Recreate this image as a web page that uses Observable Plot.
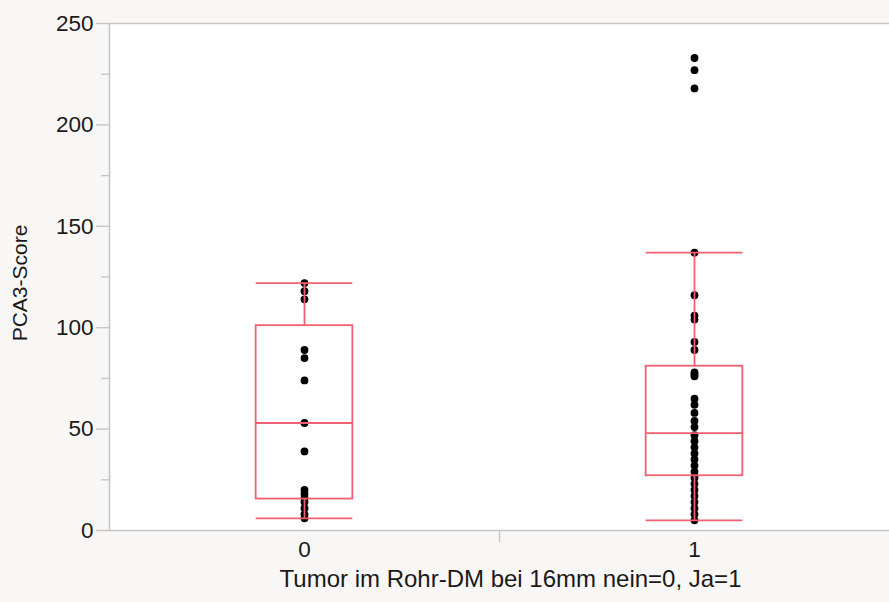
<!DOCTYPE html>
<html>
<head>
<meta charset="utf-8">
<script src="https://cdn.jsdelivr.net/npm/d3@7"></script>
<script src="https://cdn.jsdelivr.net/npm/@observablehq/plot@0.6"></script>
<style>
  html, body { margin: 0; padding: 0; background: #f8f7f5; }
  #chart svg { display: block; }
</style>
</head>
<body>
<div id="chart"></div>
<script>
// Categories (Tumor im Rohr-DM bei 16mm: nein=0, Ja=1)
const categories = [0, 1];
const categoryLabels = ["0", "1"];

// Individual PCA3-Score values per group
const group0 = [122, 118, 114, 89, 85, 74, 53, 39, 20, 18, 16, 14, 11, 8, 6];
const group1 = [233, 227, 218, 137, 116, 106, 104, 93, 89, 78, 77, 76, 65, 62, 58, 54, 51,
                47, 44, 41, 38, 35, 32, 29, 26, 23, 20, 17, 14, 11, 8, 5];

// Box summary per group
const whiskerLow  = [6, 5];
const quartile1   = [15.5, 27];
const medians     = [53, 48];
const quartile3   = [101, 81];
const whiskerHigh = [122, 137];

// Axis ticks
const yTicks = [0, 50, 100, 150, 200, 250];
const yMinorTicks = [25, 75, 125, 175, 225];
const xBoundaryTicks = [0.5];

const xLabel = "Tumor im Rohr-DM bei 16mm nein=0, Ja=1";
const yLabel = "PCA3-Score";

const points = [
  ...group0.map(v => ({cat: categories[0], v})),
  ...group1.map(v => ({cat: categories[1], v}))
];
const idx = categories.map((_, i) => i);
const half = 0.124;
const red = "#f15f70";
const axisGray = "#c6c6c6";
const font = "Liberation Sans, Arial, Helvetica, sans-serif";

const chart = Plot.plot({
  width: 889,
  height: 602,
  marginLeft: 109,
  marginRight: 0,
  marginTop: 23,
  marginBottom: 72,
  style: {background: "#f8f7f5", fontFamily: font, color: "#1a1a1a"},
  x: {type: "linear", domain: [-0.5, 1.5], axis: null},
  y: {domain: [0, 250], axis: null},
  marks: [
    Plot.frame({fill: "white", stroke: "none"}),
    // axis lines
    Plot.ruleY([250], {stroke: axisGray, strokeWidth: 1.6}),
    Plot.ruleY([0], {stroke: axisGray, strokeWidth: 1.6}),
    Plot.ruleX([-0.5], {stroke: axisGray, strokeWidth: 1.6}),
    // y axis
    Plot.axisY({ticks: yTicks, tickSize: 13, tickPadding: 3, stroke: axisGray, strokeWidth: 1.4,
                fontSize: 22.5, label: null, tickFormat: d => String(d)}),
    Plot.axisY({ticks: yMinorTicks, tickSize: 8, stroke: axisGray, strokeWidth: 1.4,
                label: null, tickFormat: () => ""}),
    // x axis
    Plot.axisX({ticks: xBoundaryTicks, tickSize: 12, stroke: axisGray, strokeWidth: 1.4,
                label: null, tickFormat: () => ""}),
    Plot.axisX({ticks: categories, tickSize: 0, tickPadding: 11, fontSize: 22.5,
                label: null, tickFormat: d => categoryLabels[categories.indexOf(d)]}),
    // data points
    Plot.dot(points, {x: "cat", y: "v", r: 3.9, fill: "black", stroke: "none"}),
    // boxes
    Plot.rect(idx, {x1: i => categories[i] - half, x2: i => categories[i] + half,
                    y1: i => quartile1[i], y2: i => quartile3[i],
                    fill: "none", stroke: red, strokeWidth: 1.8}),
    Plot.ruleY(idx, {x1: i => categories[i] - half, x2: i => categories[i] + half,
                     y: i => medians[i], stroke: red, strokeWidth: 1.8}),
    Plot.ruleY(idx, {x1: i => categories[i] - half, x2: i => categories[i] + half,
                     y: i => whiskerHigh[i], stroke: red, strokeWidth: 1.8}),
    Plot.ruleY(idx, {x1: i => categories[i] - half, x2: i => categories[i] + half,
                     y: i => whiskerLow[i], stroke: red, strokeWidth: 1.8}),
    Plot.ruleX(idx, {x: i => categories[i], y1: i => quartile3[i], y2: i => whiskerHigh[i],
                     stroke: red, strokeWidth: 1.8}),
    Plot.ruleX(idx, {x: i => categories[i], y1: i => whiskerLow[i], y2: i => quartile1[i],
                     stroke: red, strokeWidth: 1.8}),
    // axis titles
    Plot.text([xLabel], {frameAnchor: "bottom", textAnchor: "middle", dy: 56, dx: 11,
                         fontSize: 24, letterSpacing: 0.6, fill: "#1a1a1a"}),
    Plot.text([yLabel], {frameAnchor: "left", textAnchor: "middle", rotate: -90, dx: -89, dy: 6,
                         fontSize: 21, fill: "#1a1a1a"})
  ]
});
document.getElementById("chart").appendChild(chart);
</script>
</body>
</html>
